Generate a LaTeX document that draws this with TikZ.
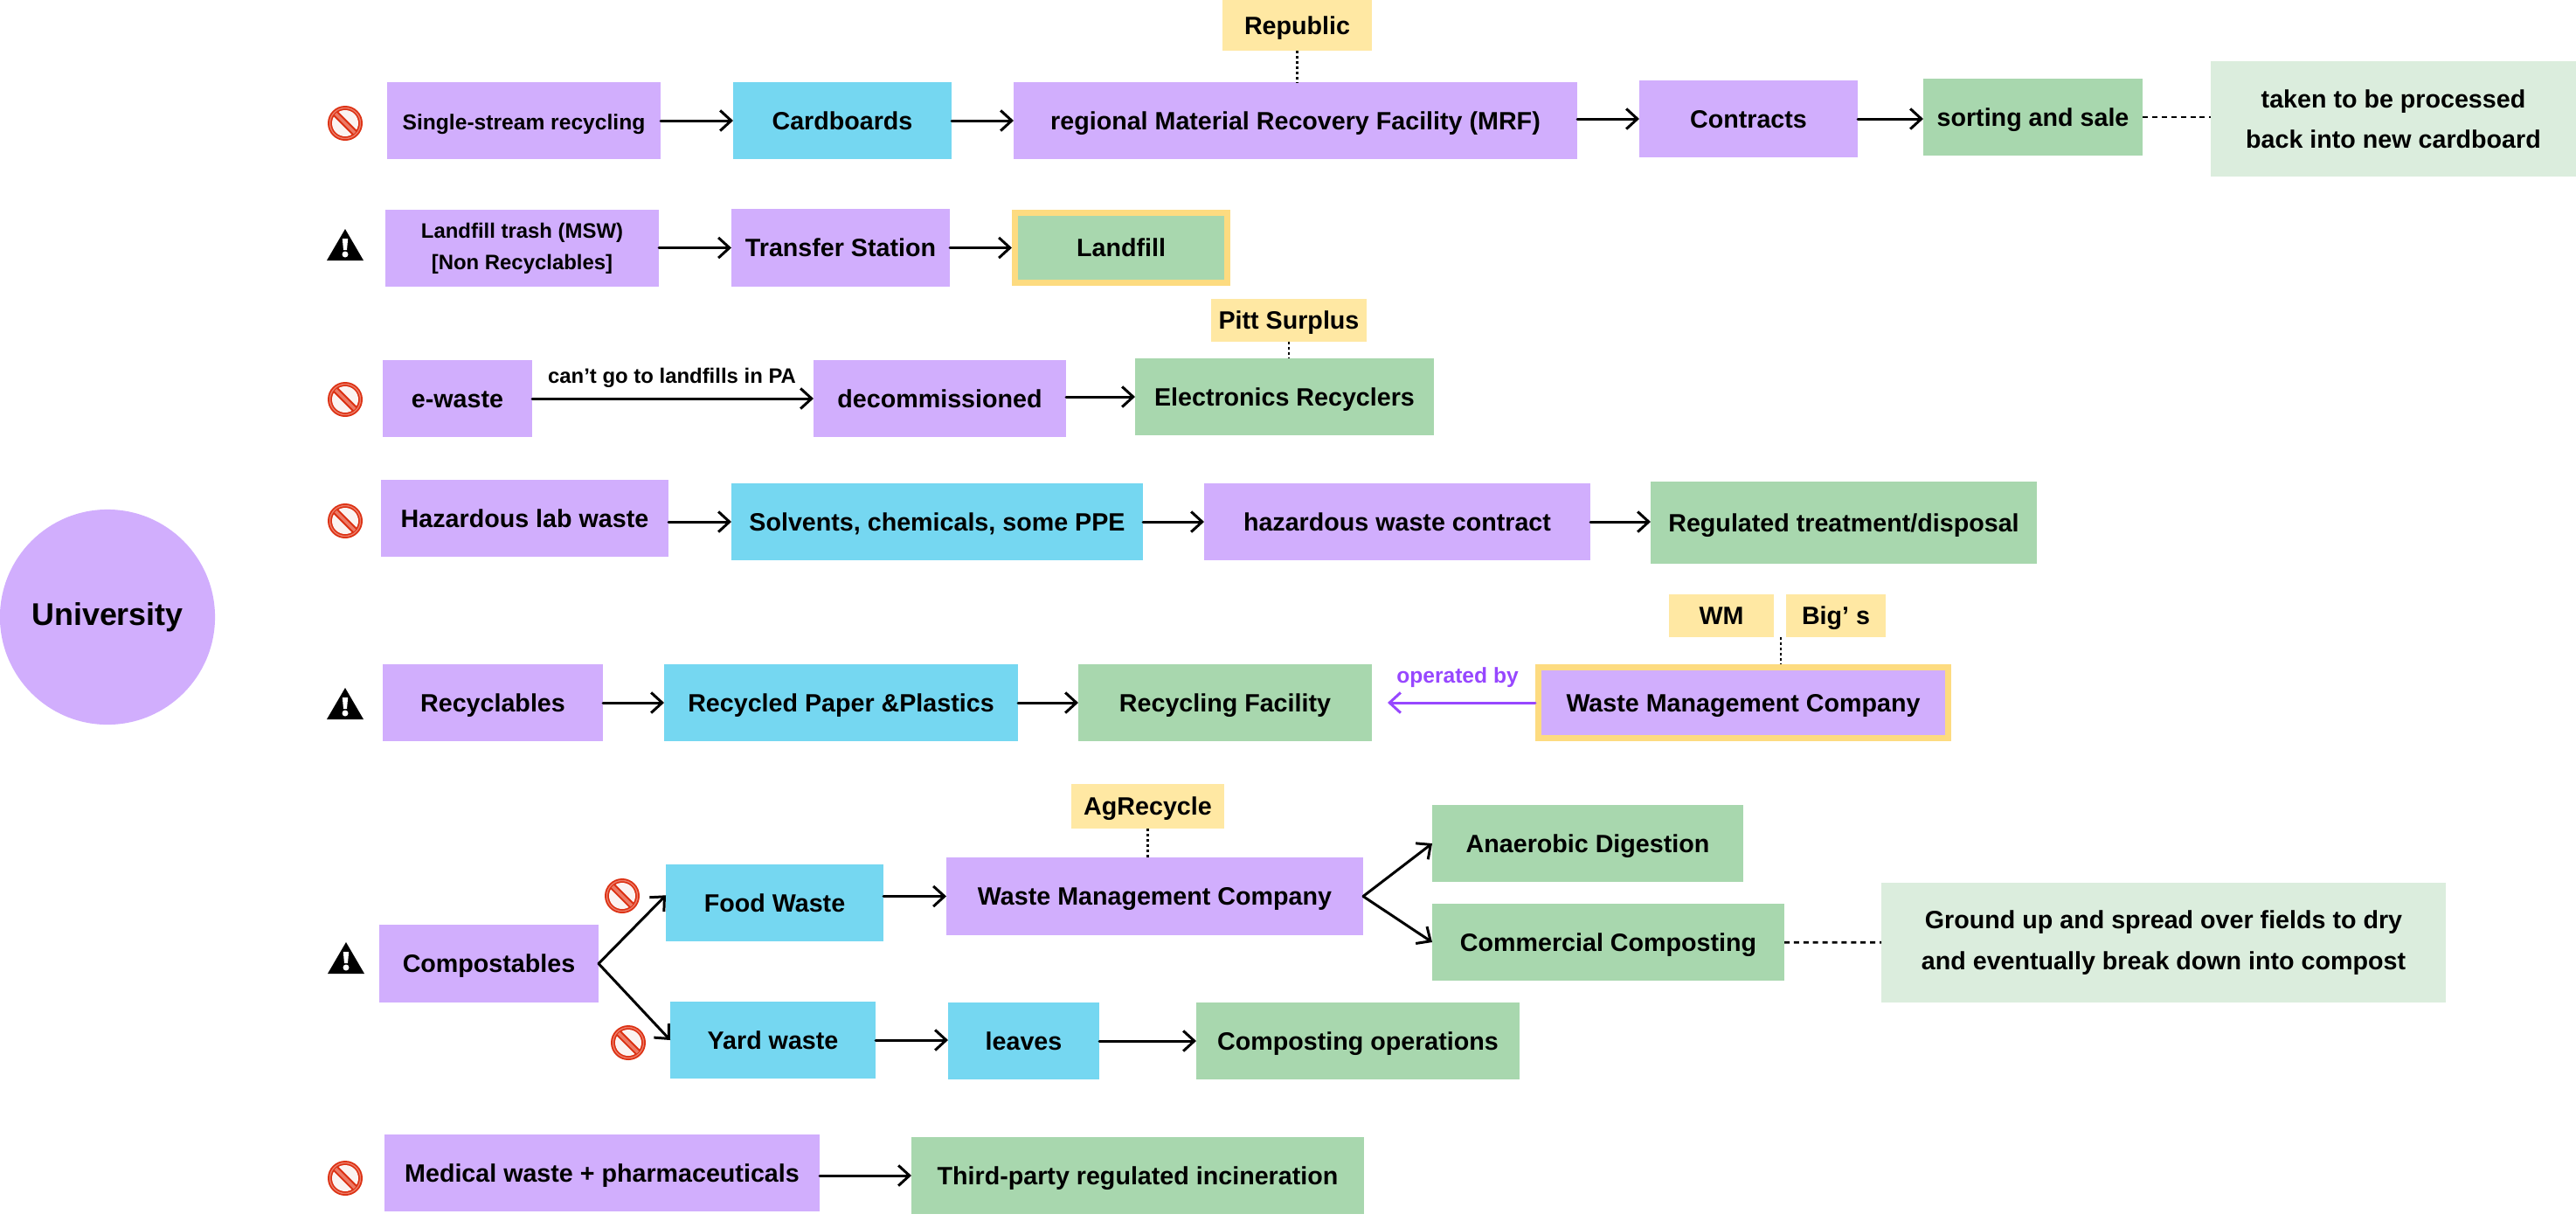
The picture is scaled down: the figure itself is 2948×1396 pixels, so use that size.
\documentclass[tikz,border=0pt]{standalone}
\usepackage{fontspec}
\setmainfont{Liberation Sans}
\usetikzlibrary{arrows.meta}
\definecolor{boxpurple}{HTML}{D1AEFD}
\definecolor{boxblue}{HTML}{75D7F1}
\definecolor{boxgreen}{HTML}{A8D7AE}
\definecolor{boxpale}{HTML}{DBEDDD}
\definecolor{tagyellow}{HTML}{FFE8A3}
\definecolor{ringyellow}{HTML}{FDDB80}
\definecolor{linkpurple}{HTML}{9747FF}
\definecolor{signred}{HTML}{DC3012}
\definecolor{signbar}{HTML}{EC7A66}
\definecolor{signpale}{HTML}{FBF3F1}
\tikzset{
  basebox/.style={rectangle, inner sep=0pt, outer sep=0pt, minimum height=0.88cm, align=center, text=black,
    text height=7.9pt, text depth=2pt, font=\fontsize{8.15}{12.8}\selectfont\bfseries},
  wd/.style={minimum width=#1*0.01cm},
  ht/.style={minimum height=#1*0.01cm},
  twolines/.style={text height=, text depth=},
  purplebox/.style={basebox, fill=boxpurple},
  bluebox/.style={basebox, fill=boxblue},
  greenbox/.style={basebox, fill=boxgreen},
  palebox/.style={basebox, twolines, fill=boxpale, font=\fontsize{8.15}{13.2}\selectfont\bfseries},
  tagbox/.style={basebox, fill=tagyellow, minimum height=0.5cm},
  ringbox/.style={draw=ringyellow, line width=2pt, outer sep=1pt},
  smalltext/.style={font=\fontsize{7}{10.2}\selectfont\bfseries},
  tinytext/.style={font=\fontsize{6.8}{10.2}\selectfont\bfseries},
  flow/.style={line width=0.85pt, line cap=round, -{Straight Barb[length=3.6pt,width=6.6pt,line width=0.85pt]}},
  tie/.style={line width=0.6pt, dash pattern=on 0.85pt off 0.85pt},
  longtie/.style={line width=0.8pt, dash pattern=on 1.7pt off 1.4pt},
  nosign/.pic={
    \fill[signred] (0,0) circle (20);
    \draw[signbar, line width=0.4pt] (0,0) circle (17.5);
    \fill[signpale] (0,0) circle (15);
    \draw[signred, line width=2.2pt] (-11,-11) -- (11,11);
    \draw[signbar, line width=1pt] (-11,-11) -- (11,11);
  },
  warnsign/.pic={
    \fill[black] (0,-18) -- (21,18) -- (-21,18) -- cycle;
    \fill[white] (-3.2,-7) -- (3.2,-7) -- (2,6) -- (-2,6) -- cycle;
    \fill[white] (0,11) circle (3.5);
  }
}
\begin{document}
\begin{tikzpicture}[x=0.01cm,y=-0.01cm]
  % page size
  \useasboundingbox (0,0) rectangle (2948,1396);

  \node[circle, fill=boxpurple, minimum size=2.46cm, inner sep=0pt, font=\fontsize{10.2}{12}\selectfont\bfseries] (university) at (123,706) {University};

  % single-stream row
  \pic at (395,141) {nosign};
  \node[purplebox, smalltext, wd=313] (single) at (599.5,138) {Single-stream recycling};
  \node[bluebox, wd=250] (cardboards) at (964,138) {Cardboards};
  \node[purplebox, wd=645] (mrf) at (1482.5,138) {regional Material Recovery Facility (MRF)};
  \node[purplebox, wd=250] (contracts) at (2001,136) {Contracts};
  \node[greenbox, wd=251] (sorting) at (2326.5,134) {sorting and sale};
  \node[palebox, wd=418, ht=132] (taken) at (2739,136) {taken to be processed\\back into new cardboard};
  \node[tagbox, wd=171, ht=58] (republic) at (1484.5,29) {Republic};
  \draw[flow] (single) -- (cardboards);
  \draw[flow] (cardboards) -- (mrf);
  \draw[flow] (mrf.east |- contracts) -- (contracts);
  \draw[flow] (contracts) -- (contracts -| sorting.west);
  \draw[longtie] (sorting.east) -- (sorting.east -| taken.west);
  \draw[tie] (republic.south) -- (republic.south |- mrf.north);

  % landfill row
  \pic at (395,280) {warnsign};
  \node[purplebox, tinytext, twolines, wd=313] (trash) at (597.5,284) {Landfill trash (MSW)\\{[}Non Recyclables{]}};
  \node[purplebox, wd=250] (transfer) at (962,283.5) {Transfer Station};
  \node[greenbox, ringbox, wd=243, ht=80] (landfill) at (1283,283.5) {Landfill};
  \draw[flow] (trash.east |- transfer) -- (transfer);
  \draw[flow] (transfer) -- (landfill);

  % e-waste row
  \pic at (395,457) {nosign};
  \node[purplebox, wd=171] (ewaste) at (523.5,456) {e-waste};
  \node[purplebox, wd=289] (decom) at (1075.5,456) {decommissioned};
  \node[greenbox, wd=342] (recyclers) at (1470,454) {Electronics Recyclers};
  \node[tagbox, wd=178, ht=49] (pitt) at (1475,366.5) {Pitt Surplus};
  \node[tinytext] (pacond) at (769,432) {can’t go to landfills in PA};
  \draw[flow] (ewaste) -- (decom);
  \draw[flow] (decom.east |- recyclers) -- (recyclers);
  \draw[tie] (pitt.south) -- (pitt.south |- recyclers.north);

  % hazardous row
  \pic at (395,596) {nosign};
  \node[purplebox, wd=329] (hazlab) at (600.5,593) {Hazardous lab waste};
  \node[bluebox, wd=471] (solvents) at (1072.5,597) {Solvents, chemicals, some PPE};
  \node[purplebox, wd=442] (hazcon) at (1599,597) {hazardous waste contract};
  \node[greenbox, wd=442, ht=94] (regulated) at (2110,598) {Regulated treatment/disposal};
  \draw[flow] (hazlab.east |- solvents) -- (solvents);
  \draw[flow] (solvents) -- (hazcon);
  \draw[flow] (hazcon) -- (hazcon -| regulated.west);

  % recyclables row
  \pic at (395,805) {warnsign};
  \node[purplebox, wd=252] (recyclables) at (564,804) {Recyclables};
  \node[bluebox, wd=405] (paper) at (962.5,804) {Recycled Paper \&Plastics};
  \node[greenbox, wd=336] (facility) at (1402,804) {Recycling Facility};
  \node[purplebox, ringbox, wd=469, ht=81] (wmco) at (1995,804) {Waste Management Company};
  \node[tagbox, wd=120, ht=49] (wm) at (1970,704.5) {WM};
  \node[tagbox, wd=114, ht=49] (bigs) at (2101,704.5) {Big’ s};
  \node[smalltext, text=linkpurple] (operated) at (1668,775) {operated by};
  \coordinate (opertip) at (1588,804);
  \coordinate (tagfork) at (2038,729);
  \draw[flow] (recyclables) -- (paper);
  \draw[flow] (paper) -- (facility);
  \draw[flow, draw=linkpurple] (wmco.west) -- (opertip);
  \draw[tie] (tagfork) -- (tagfork |- wmco.north);

  % compost row
  \pic at (396,1096) {warnsign};
  \pic at (712,1025) {nosign};
  \pic at (719,1193) {nosign};
  \node[purplebox, wd=251] (compost) at (559.5,1102.5) {Compostables};
  \node[bluebox, wd=249] (food) at (886.5,1033) {Food Waste};
  \node[bluebox, wd=235] (yard) at (884.5,1190) {Yard waste};
  \node[purplebox, wd=477] (wmcotwo) at (1321.5,1025.5) {Waste Management Company};
  \node[tagbox, wd=175, ht=51] (agrecycle) at (1313.5,922.5) {AgRecycle};
  \node[greenbox, wd=356] (anaerobic) at (1817,965) {Anaerobic Digestion};
  \node[greenbox, wd=403] (commercial) at (1840.5,1078) {Commercial Composting};
  \node[palebox, wd=646, ht=137] (ground) at (2476,1078.5) {Ground up and spread over fields to dry\\and eventually break down into compost};
  \node[bluebox, wd=173] (leaves) at (1171.5,1191) {leaves};
  \node[greenbox, wd=370] (compops) at (1554,1191) {Composting operations};
  \draw[flow] (compost.east) -- (food.176);
  \draw[flow] (compost.east) -- (yard.west);
  \draw[flow] (food.east |- wmcotwo) -- (wmcotwo);
  \draw[flow] (wmcotwo.east) -- (anaerobic.west);
  \draw[flow] (wmcotwo.east) -- (commercial.west);
  \draw[longtie] (commercial) -- (ground);
  \draw[tie] (agrecycle.south) -- (agrecycle.south |- wmcotwo.north);
  \draw[flow] (yard) -- (yard -| leaves.west);
  \draw[flow] (leaves) -- (compops);

  % medical row
  \pic at (395,1348) {nosign};
  \node[purplebox, wd=498] (medical) at (689,1342) {Medical waste + pharmaceuticals};
  \node[greenbox, wd=518] (incineration) at (1302,1345) {Third-party regulated incineration};
  \draw[flow] (medical.east |- incineration) -- (incineration);
\end{tikzpicture}
\end{document}
